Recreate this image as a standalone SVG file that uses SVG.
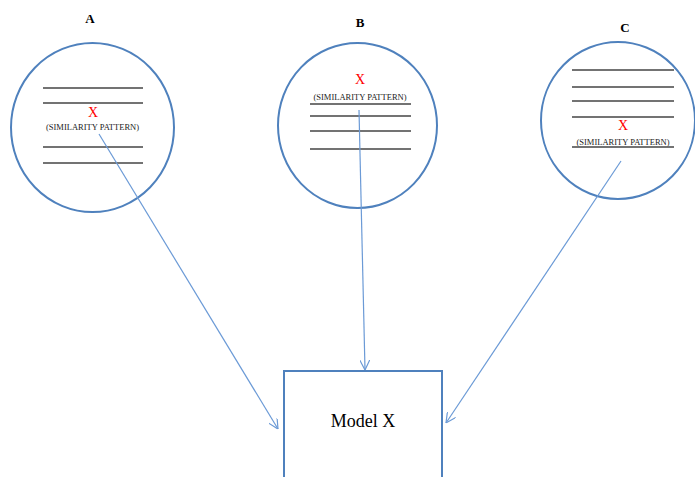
<svg xmlns="http://www.w3.org/2000/svg" width="695" height="477" viewBox="0 0 695 477">
<defs>
<style>
.circ{fill:none;stroke:#4f81bd;stroke-width:2}
.rule{stroke:#444;stroke-width:1.5}
.lbl{font-family:"Liberation Serif",serif;font-weight:bold;font-size:13px;fill:#000;text-anchor:middle}
.x{font-family:"Liberation Serif",serif;font-size:14px;fill:#ff0000;text-anchor:middle}
.sp{font-family:"Liberation Serif",serif;font-size:8.5px;fill:#222;text-anchor:middle}
.conn{stroke:#6b9ad6;stroke-width:1.2;fill:none;marker-end:url(#arr)}
.box{fill:#fff;stroke:#4f81bd;stroke-width:2}
.model{font-family:"Liberation Serif",serif;font-size:18px;fill:#000;text-anchor:middle}
</style>
<marker id="arr" viewBox="0 0 10 10" refX="10" refY="5" markerWidth="10" markerHeight="10" markerUnits="userSpaceOnUse" orient="auto">
<path d="M0,0 L10,5 L0,10" fill="none" stroke="#6b9ad6" stroke-width="1.2"/>
</marker>
</defs>
<g id="nodeA">
<text class="lbl" x="90" y="23">A</text>
<ellipse class="circ" cx="92.5" cy="127.5" rx="81.5" ry="84.5"/>
<line class="rule" x1="43" y1="88" x2="143" y2="88"/>
<line class="rule" x1="43" y1="103" x2="143" y2="103"/>
<text class="x" x="93" y="117">X</text>
<text class="sp" x="92.5" y="130">(SIMILARITY PATTERN)</text>
<line class="rule" x1="43" y1="147" x2="143" y2="147"/>
<line class="rule" x1="43" y1="163" x2="143" y2="163"/>
</g>
<g id="nodeB">
<text class="lbl" x="360" y="27">B</text>
<ellipse class="circ" cx="357.5" cy="125.5" rx="79.5" ry="82.5"/>
<text class="x" x="360" y="84">X</text>
<text class="sp" x="360" y="100">(SIMILARITY PATTERN)</text>
<line class="rule" x1="310" y1="104" x2="411" y2="104"/>
<line class="rule" x1="310" y1="116" x2="411" y2="116"/>
<line class="rule" x1="310" y1="131" x2="411" y2="131"/>
<line class="rule" x1="310" y1="149" x2="411" y2="149"/>
</g>
<g id="nodeC">
<text class="lbl" x="625" y="32">C</text>
<ellipse class="circ" cx="618" cy="120.5" rx="77" ry="78.5"/>
<line class="rule" x1="572" y1="70" x2="674" y2="70"/>
<line class="rule" x1="572" y1="87" x2="674" y2="87"/>
<line class="rule" x1="572" y1="101" x2="674" y2="101"/>
<line class="rule" x1="572" y1="117" x2="674" y2="117"/>
<text class="x" x="623" y="130">X</text>
<text class="sp" x="623" y="145">(SIMILARITY PATTERN)</text>
<line class="rule" x1="572" y1="147" x2="674" y2="147"/>
</g>
<g id="model">
<rect class="box" x="284" y="371" width="158" height="120"/>
<text class="model" x="363" y="427">Model X</text>
</g>
<g id="connectors">
<line class="conn" x1="99" y1="134" x2="278" y2="429"/>
<line class="conn" x1="359" y1="110" x2="365" y2="370"/>
<line class="conn" x1="621" y1="161" x2="446" y2="423"/>
</g>
</svg>
